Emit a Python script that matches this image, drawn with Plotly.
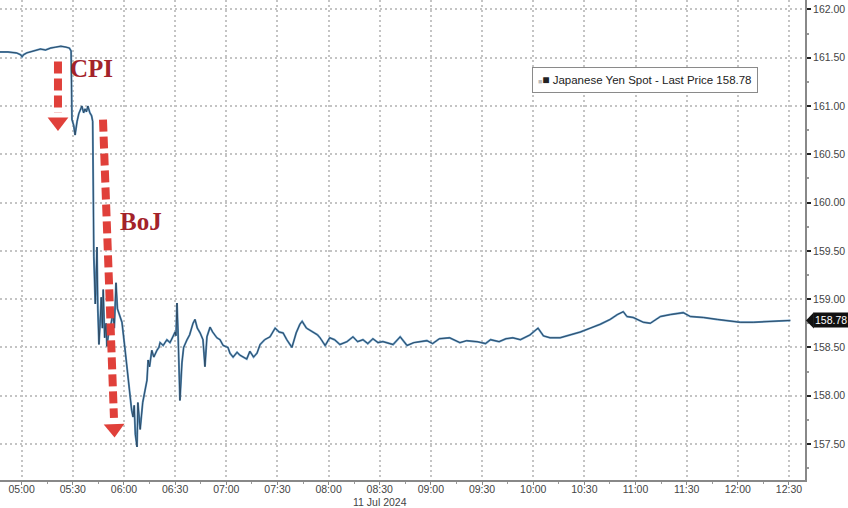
import plotly.graph_objects as go

DATE = "2024-07-11 "

times = [
    "04:47:00", "04:52:00", "04:57:00", "04:59:30", "05:00:15", "05:01:00", "05:03:00", "05:05:00",
    "05:08:00", "05:11:00", "05:14:00", "05:17:00", "05:20:00", "05:23:00", "05:26:00", "05:28:00",
    "05:29:00", "05:29:30", "05:30:30", "05:31:20", "05:32:30", "05:33:30", "05:35:20", "05:36:20",
    "05:37:10", "05:38:00", "05:38:50", "05:40:00", "05:41:00", "05:41:40", "05:42:20", "05:42:40",
    "05:43:10", "05:43:40", "05:44:10", "05:44:40", "05:45:20", "05:46:00", "05:46:40", "05:47:20",
    "05:47:50", "05:48:40", "05:49:30", "05:50:00", "05:51:00", "05:51:50", "05:52:40", "05:53:30",
    "05:54:20", "05:55:20", "05:56:10", "05:57:00", "05:58:50", "06:00:30", "06:01:50", "06:03:30",
    "06:04:30", "06:05:20", "06:06:00", "06:06:40", "06:07:40", "06:08:10", "06:09:00", "06:09:30",
    "06:11:00", "06:12:30", "06:13:30", "06:14:10", "06:15:00", "06:16:20", "06:17:30", "06:19:20",
    "06:20:30", "06:21:10", "06:23:00", "06:25:10", "06:27:00", "06:28:40", "06:30:00", "06:30:30",
    "06:31:06", "06:31:40", "06:32:50", "06:34:00", "06:35:00", "06:37:00", "06:38:30", "06:40:30",
    "06:41:40", "06:43:00", "06:44:40", "06:46:20", "06:47:30", "06:48:40", "06:50:30", "06:52:00",
    "06:54:30", "06:56:20", "06:58:10", "07:01:00", "07:02:10", "07:04:00", "07:06:20", "07:08:00",
    "07:09:50", "07:12:00", "07:13:50", "07:16:00", "07:18:00", "07:19:50", "07:22:30", "07:25:40",
    "07:28:40", "07:31:00", "07:33:20", "07:35:30", "07:38:30", "07:41:00", "07:43:10", "07:44:30",
    "07:47:00", "07:50:50", "07:53:30", "07:55:00", "07:58:00", "08:00:40", "08:03:30", "08:06:40",
    "08:10:50", "08:14:20", "08:17:00", "08:20:10", "08:23:00", "08:26:00", "08:29:00", "08:31:50",
    "08:37:50", "08:42:00", "08:46:00", "08:50:00", "08:53:30", "08:57:40", "09:01:00", "09:05:00",
    "09:11:00", "09:17:00", "09:21:00", "09:27:00", "09:32:00", "09:35:00", "09:40:00", "09:44:00",
    "09:48:00", "09:52:30", "09:58:10", "10:02:50", "10:06:00", "10:09:50", "10:15:50", "10:21:40",
    "10:27:40", "10:33:30", "10:39:20", "10:45:10", "10:49:20", "10:52:50", "10:55:00", "10:58:40",
    "11:04:40", "11:08:40", "11:14:40", "11:20:30", "11:28:00", "11:32:10", "11:39:50", "11:48:00",
    "11:55:40", "12:01:30", "12:09:10", "12:19:10", "12:26:40", "12:30:50",
]

prices = [
    161.56, 161.56, 161.55, 161.53, 161.51, 161.53, 161.55, 161.56,
    161.58, 161.59, 161.58, 161.60, 161.61, 161.62, 161.61, 161.60,
    161.57, 160.86, 160.80, 160.70, 160.84, 160.92, 161.00, 160.93,
    160.97, 160.94, 161.00, 160.93, 160.90, 160.84, 159.44, 159.30,
    158.95, 159.20, 159.54, 158.90, 158.53, 158.75, 159.02, 158.70,
    159.10, 158.60, 158.75, 158.51, 158.65, 158.68, 158.80, 158.86,
    158.70, 159.17, 158.90, 158.85, 158.76, 158.50, 158.27, 157.99,
    157.85, 157.78, 157.90, 157.60, 157.47, 157.93, 157.70, 157.65,
    157.93, 158.05, 158.16, 158.37, 158.30, 158.47, 158.40, 158.47,
    158.50, 158.55, 158.52, 158.58, 158.55, 158.61, 158.66, 158.62,
    158.96, 158.68, 157.95, 158.34, 158.50, 158.58, 158.63, 158.75,
    158.79, 158.70, 158.65, 158.58, 158.30, 158.61, 158.71, 158.66,
    158.60, 158.58, 158.52, 158.50, 158.44, 158.40, 158.45, 158.42,
    158.40, 158.38, 158.46, 158.40, 158.44, 158.53, 158.58, 158.61,
    158.70, 158.66, 158.65, 158.58, 158.50, 158.65, 158.74, 158.77,
    158.70, 158.66, 158.63, 158.60, 158.52, 158.60, 158.58, 158.53,
    158.56, 158.61, 158.56, 158.58, 158.54, 158.59, 158.55, 158.56,
    158.53, 158.61, 158.52, 158.55, 158.56, 158.57, 158.54, 158.59,
    158.60, 158.55, 158.57, 158.56, 158.54, 158.58, 158.56, 158.59,
    158.60, 158.58, 158.63, 158.70, 158.62, 158.60, 158.60, 158.63,
    158.66, 158.70, 158.74, 158.79, 158.84, 158.87, 158.82, 158.81,
    158.76, 158.75, 158.82, 158.84, 158.86, 158.82, 158.81, 158.79,
    158.77, 158.76, 158.76, 158.77, 158.78, 158.78,
]

y_ticks = [157.5, 158.0, 158.5, 159.0, 159.5, 160.0, 160.5, 161.0, 161.5, 162.0]
series_name = "Japanese Yen Spot - Last Price"
last_price = prices[-1]

x = [DATE + t for t in times]

fig = go.Figure()
fig.add_trace(go.Scatter(x=x, y=prices, mode="lines",
                         line=dict(color="#5a93c0", width=2.0), showlegend=False, hoverinfo="skip"))
fig.add_trace(go.Scatter(x=x, y=prices, mode="lines", opacity=0.85,
                         line=dict(color="#1d2c3c", width=0.8), showlegend=False))

RED = "#e0403a"
# CPI arrow
cpi_x = DATE + "05:21:18"
fig.add_shape(type="line", xref="x", yref="y", x0=cpi_x, x1=cpi_x, y0=161.46, y1=160.93,
              line=dict(color=RED, width=8, dash="12px,5px"))
# BoJ arrow
fig.add_shape(type="line", xref="x", yref="y", x0=DATE + "05:47:42", x1=DATE + "05:54:08",
              y0=160.86, y1=157.77, line=dict(color=RED, width=8, dash="12px,5px"))
fig.add_trace(go.Scatter(x=[cpi_x, DATE + "05:54:18"], y=[160.835, 157.66], mode="markers",
                         marker=dict(symbol="triangle-down", size=18, color=RED, angle=[0, -2],
                                     line=dict(width=0)),
                         showlegend=False, hoverinfo="skip", cliponaxis=False))

fig.add_annotation(x=DATE + "05:40:42", y=161.39, xref="x", yref="y", text="<b>CPI</b>",
                   showarrow=False, font=dict(family="Liberation Serif", size=25, color="#a3222a"))
fig.add_annotation(x=DATE + "06:10:00", y=159.80, xref="x", yref="y", text="<b>BoJ</b>",
                   showarrow=False, font=dict(family="Liberation Serif", size=25, color="#a3222a"))

# legend box
fig.add_annotation(x=0.801, y=0.833, xref="paper", yref="paper", xanchor="center", yanchor="middle",
                   text="<span style='color:#bbbbbb;font-size:7px'>■</span><span style='font-size:12px'>■</span> "
                        + f"{series_name} {last_price:.2f}",
                   showarrow=False, bgcolor="white", bordercolor="#8a8a8a", borderwidth=1, borderpad=5,
                   font=dict(family="Liberation Sans", size=11.5, color="#222"))

# last price tag
fig.add_annotation(x=1, y=last_price, xref="paper", yref="y", xanchor="left", xshift=8,
                   text=f"{last_price:.2f}", showarrow=False, bgcolor="#111", borderpad=1,
                   font=dict(family="Liberation Sans", size=10.5, color="white"))
fig.add_shape(type="path", xref="paper", yref="y", layer="above",
              path=f"M 1.0012,{last_price} L 1.011,{last_price + 0.085} L 1.011,{last_price - 0.085} Z",
              fillcolor="#111", line=dict(width=0))

fig.add_annotation(x=DATE + "08:30:00", y=-0.0458, xref="x", yref="paper", yanchor="middle",
                   text="11 Jul 2024", showarrow=False,
                   font=dict(family="Liberation Sans", size=10.5, color="#444"))

tickvals_x = [DATE + f"{h:02d}:{m:02d}:00" for h in range(5, 13) for m in (0, 30)]
GRID = dict(showgrid=True, gridcolor="#c4c4c4", griddash="2px,3px", gridwidth=1.5)
fig.update_layout(
    width=848, height=508,
    margin=dict(l=0, r=43, t=0, b=28),
    paper_bgcolor="white", plot_bgcolor="white",
    font=dict(family="Liberation Sans", size=10.5, color="#444"),
    xaxis=dict(
        range=[DATE + "04:47:18", DATE + "12:39:24"],
        type="date", tickvals=tickvals_x, tickformat="%H:%M",
        showline=True, linecolor="#888", linewidth=1.5,
        ticks="outside", ticklen=3, tickcolor="#888", ticklabelstandoff=-4,
        minor=dict(dtick=15 * 60 * 1000, ticks="outside", ticklen=2, tickcolor="#999", showgrid=False),
        zeroline=False, fixedrange=True, **GRID,
    ),
    yaxis=dict(
        side="right", range=[157.127, 162.098], tickvals=y_ticks, tickformat=".2f",
        showline=True, linecolor="#888", linewidth=2,
        ticks="outside", ticklen=4, tickwidth=2, tickcolor="#222",
        minor=dict(dtick=0.25, ticks="outside", ticklen=2, tickcolor="#999", showgrid=False),
        zeroline=False, fixedrange=True, **GRID,
    ),
)

fig.write_html("out.html", config={"displayModeBar": False},
               post_script="document.body.style.margin='0px';")
